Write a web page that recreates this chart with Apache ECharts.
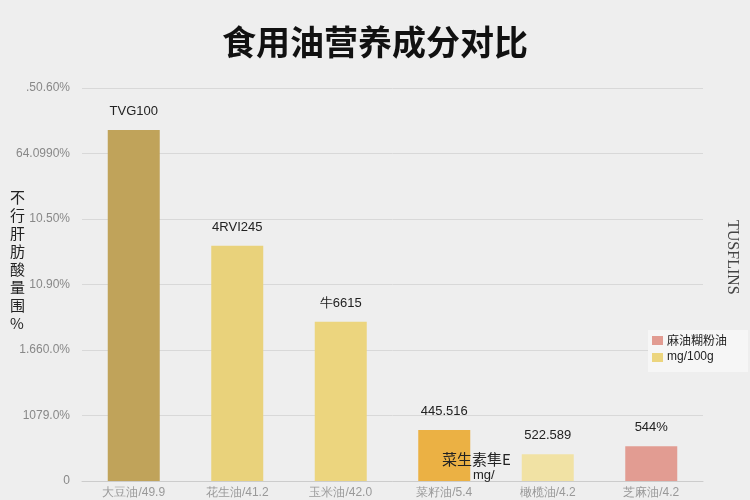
<!DOCTYPE html>
<html><head><meta charset="utf-8">
<script src="https://cdn.jsdelivr.net/npm/echarts@6/dist/echarts.min.js"></script>
<style>html,body{margin:0;padding:0;background:#eeeeee}#c{width:750px;height:500px}</style>
</head><body><div id="c"></div>
<script>
const categories = ['大豆油/49.9', '花生油/41.2', '玉米油/42.0', '菜籽油/5.4', '橄榄油/4.2', '芝麻油/4.2'];
const values = [53.6, 35.9, 24.3, 7.8, 4.1, 5.3];
const valueLabels = ['TVG100', '4RVI245', '牛6615', '445.516', '522.589', '544%'];
const colors = ['#c0a35a', '#e9d27b', '#ecd57e', '#ebb144', '#f1e2a4', '#e29c92'];
const yTickLabels = ['0', '1079.0%', '1.660.0%', '10.90%', '10.50%', '64.0990%', '.50.60%'];

const chart = echarts.init(document.getElementById('c'));
chart.setOption({
  backgroundColor: '#eeeeee',
  title: { text: '食用油营养成分对比', left: 'center', top: 20,
    textStyle: { fontSize: 34, fontWeight: 'bold', color: '#111', fontFamily: 'Noto Sans CJK SC' } },
  grid: { left: 82, right: 47, top: 88, bottom: 19 },
  xAxis: { type: 'category', data: categories,
    axisLine: { lineStyle: { color: '#ccc' } }, axisTick: { show: false },
    axisLabel: { color: '#999', fontSize: 12, margin: 6 } },
  yAxis: { type: 'value', min: 0, max: 60, interval: 10,
    axisLabel: { color: '#888', fontSize: 12, margin: 12, formatter: (v, i) => yTickLabels[i] },
    splitLine: { lineStyle: { color: '#d8d8d8' } } },
  series: [{
    type: 'bar', barWidth: 52,
    data: values.map((v, i) => ({ value: v, itemStyle: { color: colors[i] } })),
    label: { show: true, position: 'top', distance: 12, color: '#222', fontSize: 13,
      formatter: p => valueLabels[p.dataIndex] }
  }],
  graphic: [
    { type: 'text', left: 10, top: 188, z: 100, style: { text: '不\n行\n肝\n肪\n酸\n量\n围\n%', fontSize: 15, lineHeight: 18, fill: '#222', fontFamily: 'Noto Sans CJK SC' } },
    { type: 'text', left: 724, top: 220, z: 100, style: { text: 'TUSFLINS', fontSize: 16, fill: '#444', fontFamily: 'Liberation Serif' }, rotation: -Math.PI/2, originX: 0, originY: 0 },
    { type: 'rect', left: 648, top: 330, z: 100, shape: { width: 100, height: 42 }, style: { fill: '#f6f6f6' } },
    { type: 'rect', left: 652, top: 336, z: 101, shape: { width: 11, height: 9 }, style: { fill: '#e29c92' } },
    { type: 'text', left: 667, top: 334, z: 101, style: { text: '麻油糊粉油', fontSize: 12, fill: '#222', fontFamily: 'Noto Sans CJK SC' } },
    { type: 'rect', left: 652, top: 353, z: 101, shape: { width: 11, height: 9 }, style: { fill: '#ecd57e' } },
    { type: 'text', left: 667, top: 351, z: 101, style: { text: 'mg/100g', fontSize: 12, fill: '#222' } },
    { type: 'text', left: 442, top: 452, z: 100, style: { text: '菜生素隼E', fontSize: 15, fill: '#222', fontFamily: 'Noto Sans CJK SC' } },
    { type: 'text', left: 473, top: 469, z: 100, style: { text: 'mg/', fontSize: 13, fill: '#222' } }
  ]
});
</script></body></html>
